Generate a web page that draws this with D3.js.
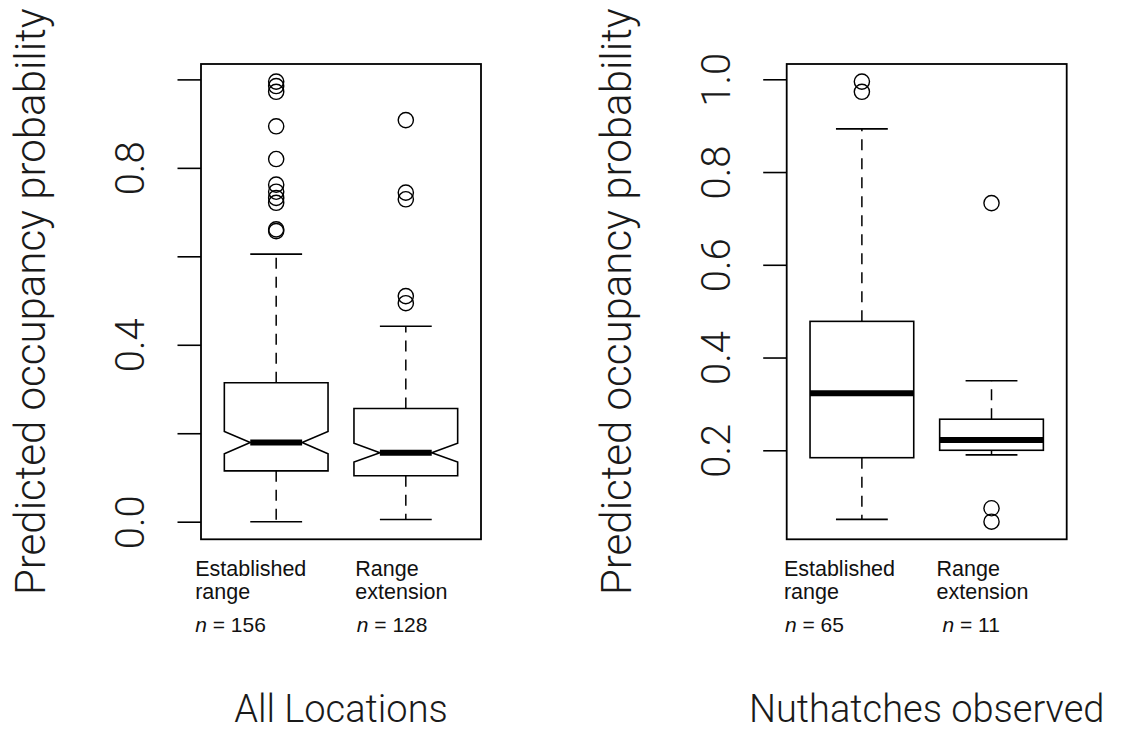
<!DOCTYPE html>
<html>
<head>
<meta charset="utf-8">
<script src="https://cdn.jsdelivr.net/npm/d3@7"></script>
<style>
  html, body { margin: 0; padding: 0; background: #fff; }
  .thin { font-family: Roboto, Lato, "Liberation Sans", sans-serif; font-weight: 300; fill: #1a1a1a; }
  .lab { font-family: "Liberation Sans", Arial, sans-serif; fill: #111; }
</style>
</head>
<body>
<svg id="chart" width="1121" height="734"></svg>
<script>
// Group names, printed as two lines under each box
const groupLines = [["Established", "range"], ["Range", "extension"]];

// Panel 1: all locations (notched boxes)
const allN = [156, 128];
const allLowerWhisker = [0.000, 0.005];
const allQ1 = [0.115, 0.104];
const allMedian = [0.179, 0.156];
const allQ3 = [0.314, 0.256];
const allUpperWhisker = [0.605, 0.442];
const allOutliers = [
  [0.995, 0.985, 0.972, 0.894, 0.820, 0.762, 0.746, 0.732, 0.721, 0.661, 0.657],
  [0.908, 0.744, 0.729, 0.510, 0.494]
];
const allTicks = [0, 0.2, 0.4, 0.6, 0.8, 1.0];
const allTickLabels = ["0.0", "", "0.4", "", "0.8", ""];

// Panel 2: locations where nuthatches were observed
const obsN = [65, 11];
const obsLowerWhisker = [0.051, 0.190];
const obsQ1 = [0.184, 0.200];
const obsMedian = [0.323, 0.222];
const obsQ3 = [0.478, 0.267];
const obsUpperWhisker = [0.893, 0.350];
const obsOutliers = [
  [0.995, 0.973],
  [0.733, 0.075, 0.046]
];
const obsTicks = [0.2, 0.4, 0.6, 0.8, 1.0];
const obsTickLabels = ["0.2", "0.4", "0.6", "0.8", "1.0"];

const yTitle = "Predicted occupancy probability";
const panelTitles = ["All Locations", "Nuthatches observed"];

const svg = d3.select("#chart");
svg.append("rect").attr("width", 1121).attr("height", 734).attr("fill", "#fff");

const frameTop = 64, frameBottom = 539.3, frameW = 280;

function drawPanel(p) {
  const g = svg.append("g");
  const left = p.left, right = left + frameW;

  const x = d3.scaleLinear().domain([0.42, 2.58]).range([left, right]);

  const all = [];
  p.lower.forEach((v, i) => {
    all.push(v, p.upper[i], p.q1[i], p.q3[i], ...p.outliers[i]);
  });
  const lo = d3.min(all), hi = d3.max(all), pad = (hi - lo) * 0.04;
  const y = d3.scaleLinear().domain([lo - pad, hi + pad]).range([frameBottom, frameTop]);

  // y axis with rotated labels
  const ax = g.append("g")
    .attr("transform", `translate(${left},0)`)
    .call(d3.axisLeft(y).tickValues(p.ticks).tickSize(23.5)
      .tickFormat((d, i) => p.tickLabels[i]));
  ax.select(".domain").remove();
  ax.selectAll(".tick line").attr("stroke", "#000").attr("stroke-width", 1.6);
  ax.selectAll(".tick text")
    .attr("class", "thin")
    .attr("transform", "rotate(-90)")
    .attr("x", 0).attr("y", -57).attr("dy", null)
    .attr("text-anchor", "middle")
    .attr("font-size", 40)
    .attr("font-family", null);

  const hw = x(1.4) - x(1);

  p.q1.forEach((_, i) => {
    const cx = x(i + 1);
    const bg = g.append("g").attr("fill", "none").attr("stroke", "#000");

    // whiskers
    [[p.q3[i], p.upper[i]], [p.q1[i], p.lower[i]]].forEach(([a, b]) => {
      bg.append("line").attr("x1", cx).attr("x2", cx)
        .attr("y1", y(a)).attr("y2", y(b))
        .attr("stroke-width", 1.5).attr("stroke-dasharray", "11,8");
      bg.append("line").attr("x1", cx - hw / 2).attr("x2", cx + hw / 2)
        .attr("y1", y(b)).attr("y2", y(b)).attr("stroke-width", 1.6);
    });

    // box (notched in the first panel)
    if (p.notch) {
      const half = 1.58 * (p.q3[i] - p.q1[i]) / Math.sqrt(p.n[i]);
      const nLo = p.median[i] - half, nHi = p.median[i] + half;
      const pts = [
        [cx - hw, y(p.q1[i])], [cx - hw, y(nLo)], [cx - hw / 2, y(p.median[i])],
        [cx - hw, y(nHi)], [cx - hw, y(p.q3[i])], [cx + hw, y(p.q3[i])],
        [cx + hw, y(nHi)], [cx + hw / 2, y(p.median[i])], [cx + hw, y(nLo)],
        [cx + hw, y(p.q1[i])]
      ];
      bg.append("path").attr("d", d3.line()(pts) + "Z")
        .attr("fill", "#fff").attr("stroke-width", 1.6);
      bg.append("line").attr("x1", cx - hw / 2).attr("x2", cx + hw / 2)
        .attr("y1", y(p.median[i])).attr("y2", y(p.median[i]))
        .attr("stroke-width", 6);
    } else {
      bg.append("rect").attr("x", cx - hw).attr("width", 2 * hw)
        .attr("y", y(p.q3[i])).attr("height", y(p.q1[i]) - y(p.q3[i]))
        .attr("fill", "#fff").attr("stroke-width", 1.6);
      bg.append("line").attr("x1", cx - hw).attr("x2", cx + hw)
        .attr("y1", y(p.median[i])).attr("y2", y(p.median[i]))
        .attr("stroke-width", 6);
    }

    // outliers
    bg.selectAll("circle.o").data(p.outliers[i]).join("circle")
      .attr("cx", cx).attr("cy", d => y(d)).attr("r", 7.6)
      .attr("stroke-width", 1.4);

    // group labels and sample sizes
    const lx = cx + p.labelShift[i];
    const t = g.append("text").attr("class", "lab").attr("font-size", 21.5);
    t.append("tspan").attr("x", lx).attr("y", 576).text(groupLines[i][0]);
    t.append("tspan").attr("x", lx).attr("y", 599).text(groupLines[i][1]);
    const nt = g.append("text").attr("class", "lab").attr("font-size", 21)
      .attr("x", cx + p.nShift[i]).attr("y", 632);
    nt.append("tspan").attr("font-style", "italic").text("n");
    nt.append("tspan").text(" = " + p.n[i]);
  });

  // frame
  g.append("rect").attr("x", left).attr("y", frameTop)
    .attr("width", frameW).attr("height", frameBottom - frameTop)
    .attr("fill", "none").attr("stroke", "#000").attr("stroke-width", 1.8);

  // axis title
  const midY = (frameTop + frameBottom) / 2;
  g.append("text").attr("class", "thin").attr("font-size", 42)
    .attr("text-anchor", "middle")
    .attr("transform", `translate(${left - 156},${midY}) rotate(-90)`)
    .text(yTitle);

  // panel title below
  g.append("text").attr("class", "thin").attr("font-size", 38)
    .attr("text-anchor", "middle")
    .attr("x", (left + right) / 2).attr("y", 722)
    .text(p.title);
}

drawPanel({
  left: 201, notch: true, n: allN,
  lower: allLowerWhisker, q1: allQ1, median: allMedian, q3: allQ3, upper: allUpperWhisker,
  outliers: allOutliers, ticks: allTicks, tickLabels: allTickLabels,
  labelShift: [-81, -50.5], nShift: [-81, -49], title: panelTitles[0]
});

drawPanel({
  left: 786.7, notch: false, n: obsN,
  lower: obsLowerWhisker, q1: obsQ1, median: obsMedian, q3: obsQ3, upper: obsUpperWhisker,
  outliers: obsOutliers, ticks: obsTicks, tickLabels: obsTickLabels,
  labelShift: [-78, -55], nShift: [-77, -49], title: panelTitles[1]
});
</script>
</body>
</html>
